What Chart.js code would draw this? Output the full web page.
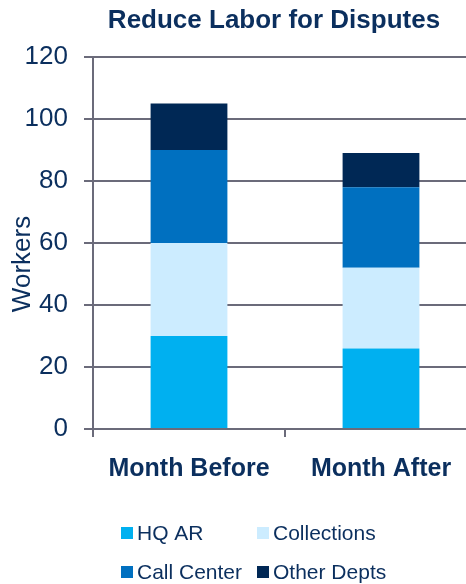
<!DOCTYPE html>
<html>
<head>
<meta charset="utf-8">
<script src="https://cdn.jsdelivr.net/npm/chart.js@4.4.1/dist/chart.umd.min.js"></script>
<style>
  html, body { margin: 0; padding: 0; background: #ffffff; overflow: hidden; }
  #wrap { position: absolute; left: 0; top: 0; width: 480px; height: 584px; }
</style>
</head>
<body>
<div id="wrap"><canvas id="c" width="480" height="584"></canvas></div>
<script>
const chartTitle = 'Reduce Labor for Disputes';
const yTitle = 'Workers';
const categories = ['Month Before', 'Month After'];
const seriesNames = ['HQ AR', 'Collections', 'Call Center', 'Other Depts'];
const hqAR = [30, 26];
const collections = [30, 26];
const callCenter = [30, 26];
const otherDepts = [15, 11];
const yMin = 0, yMax = 120, yStep = 20;

const colors = ['#00B0F0', '#CCECFF', '#0070C0', '#002855'];
const textColor = '#0B2F5E';
const gridColor = '#6B6B7A';
const font = "'Liberation Sans', Arial, sans-serif";

const extraText = {
  id: 'extraText',
  afterDraw(chart) {
    const ctx = chart.ctx;
    ctx.save();
    ctx.fillStyle = textColor;
    ctx.textBaseline = 'middle';
    // title
    ctx.font = 'bold 26px ' + font;
    ctx.textAlign = 'center';
    ctx.fillText(chartTitle, 274, 21);
    // y title
    ctx.save();
    ctx.translate(23, 264);
    ctx.rotate(-Math.PI / 2);
    ctx.font = '26px ' + font;
    ctx.fillText(yTitle, 0, 0);
    ctx.restore();
    // legend (2 columns, 2 rows)
    const colX = [121, 257];
    const rowY = [533, 572];
    ctx.font = '21px ' + font;
    ctx.textAlign = 'left';
    chart.data.datasets.forEach((ds, i) => {
      const x = colX[i % 2];
      const y = rowY[Math.floor(i / 2)];
      ctx.fillStyle = ds.backgroundColor;
      ctx.fillRect(x, y - 6, 12, 12);
      ctx.fillStyle = textColor;
      ctx.fillText(ds.label, x + 16, y + 1);
    });
    ctx.restore();
  }
};

const seriesData = [hqAR, collections, callCenter, otherDepts];

new Chart(document.getElementById('c'), {
  type: 'bar',
  data: {
    labels: categories,
    datasets: seriesNames.map((n, i) => ({
      label: n,
      data: seriesData[i],
      backgroundColor: colors[i],
      borderWidth: 0,
      barPercentage: 0.4,
      categoryPercentage: 1.0
    }))
  },
  options: {
    responsive: false,
    animation: false,
    devicePixelRatio: 1,
    layout: { padding: { top: 57, right: 3, left: 0, bottom: 0 } },
    plugins: {
      legend: { display: false },
      title: { display: false },
      tooltip: { enabled: false }
    },
    scales: {
      x: {
        stacked: true,
        afterFit(s) { s.height = 155; },
        grid: { drawOnChartArea: false, drawTicks: true, tickLength: 8, color: gridColor, lineWidth: 2, offset: true },
        border: { display: true, color: gridColor, width: 2 },
        ticks: { color: textColor, font: { family: font, size: 25, weight: 'bold' }, padding: 17, maxRotation: 0 }
      },
      y: {
        stacked: true,
        min: yMin, max: yMax,
        afterFit(s) { s.width = 93; },
        grid: { color: gridColor, lineWidth: 2, tickLength: 9, drawTicks: true },
        border: { display: true, color: gridColor, width: 2 },
        ticks: { stepSize: yStep, color: textColor, font: { family: font, size: 26 }, padding: 16 }
      }
    }
  },
  plugins: [extraText]
});
</script>
</body>
</html>
